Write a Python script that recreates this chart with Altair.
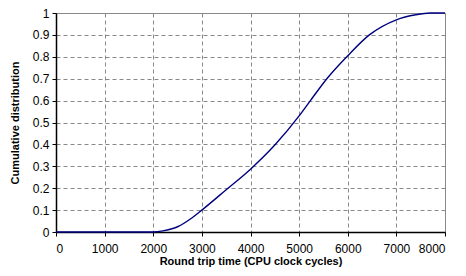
import altair as alt
import pandas as pd

cycles = [0, 2000, 2200, 2500, 2800, 3000, 3500, 4000, 4500, 5000, 5232, 5570, 6000, 6444, 7000, 7400, 7700, 8000]
cdf = [0, 0, 0.005, 0.024, 0.065, 0.1, 0.193, 0.287, 0.397, 0.53, 0.6, 0.7, 0.805, 0.9, 0.969, 0.992, 1.0, 1.0]

df = pd.DataFrame({"x": cycles, "y": cdf})

x_ticks = list(range(0, 8001, 1000))
y_ticks = [round(i * 0.1, 1) for i in range(11)]

chart = alt.Chart(df).mark_line(color="#000080", strokeWidth=1.4, interpolate="monotone").encode(
    x=alt.X("x:Q", scale=alt.Scale(domain=[0, 8000], nice=False),
            axis=alt.Axis(values=x_ticks, title="Round trip time (CPU clock cycles)", format="d")),
    y=alt.Y("y:Q", scale=alt.Scale(domain=[0, 1], nice=False),
            axis=alt.Axis(values=y_ticks, title="Cumulative distribution",
                          labelExpr="datum.value == 0 ? '0' : datum.value == 1 ? '1' : format(datum.value, '.1f')")),
).properties(
    width=389, height=219,
    autosize=alt.AutoSizeParams(type="none"),
    padding={"left": 48, "top": 5, "right": 13, "bottom": 35},
).configure_view(
    stroke="#888888", strokeWidth=1
).configure_axis(
    labelFont="Liberation Sans", titleFont="Liberation Sans",
    labelFontSize=12, titleFontSize=11, titleFontWeight="bold",
    labelColor="#000", titleColor="#000",
    domainColor="#000", domainWidth=1.5,
    tickColor="#000", tickSize=4,
    grid=True, gridColor="#888888", gridDash=[4, 3], gridWidth=1,
).configure_axisX(
    labelPadding=7, titlePadding=1,
).configure_axisY(
    labelPadding=3, titlePadding=12,
)

chart.save("out.html", embed_options={"renderer": "svg", "actions": False})
